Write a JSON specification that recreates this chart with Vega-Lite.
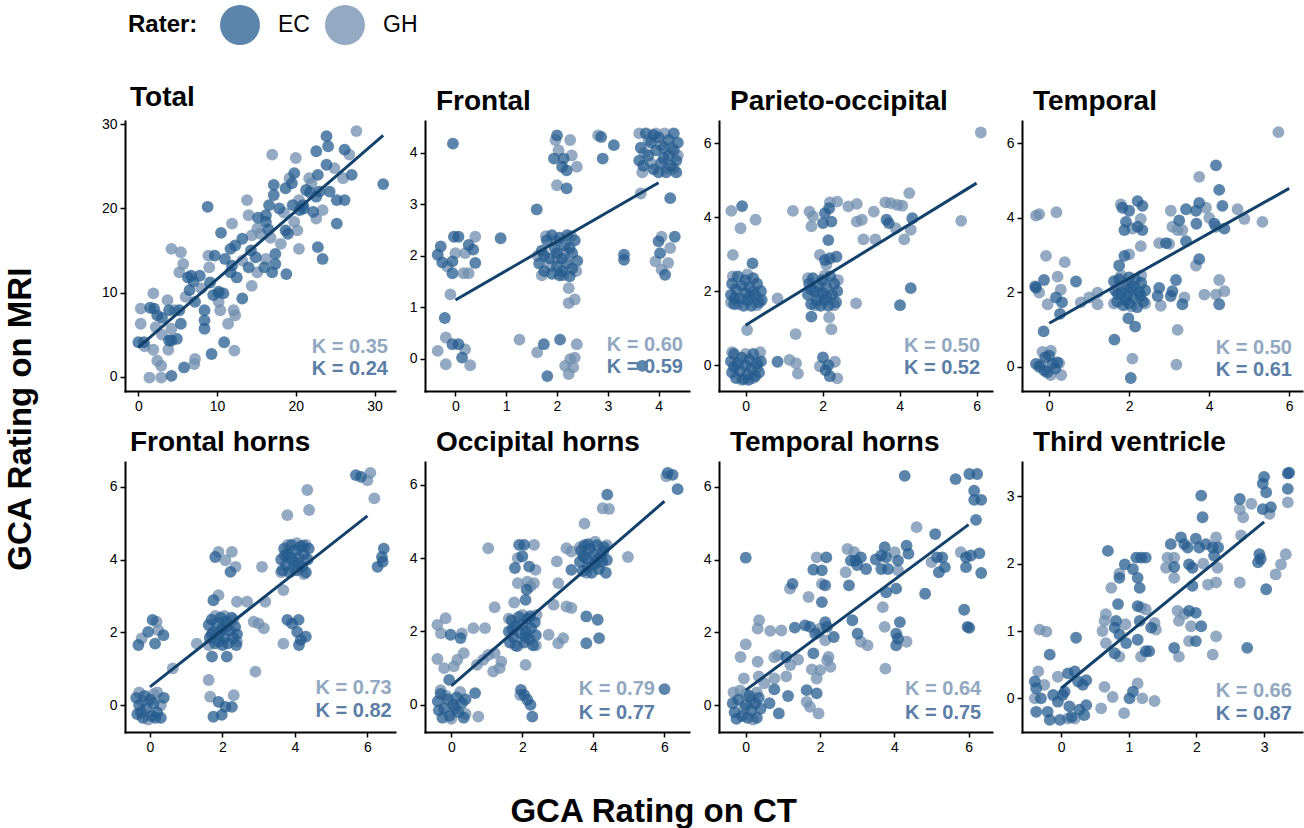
{
"$schema":"https://vega.github.io/schema/vega-lite/v6.json",
"background":"white",
"padding":{"left":5,"top":5,"right":3,"bottom":3},
"datasets":{
"lns":[
{"p":"T","x":0,"y":3.5},{"p":"T","x":31.1,"y":28.7},
{"p":"F","x":0,"y":1.14},{"p":"F","x":4,"y":3.42},
{"p":"P","x":0,"y":1.08},{"p":"P","x":6,"y":4.92},
{"p":"Te","x":0,"y":1.17},{"p":"Te","x":6,"y":4.79},
{"p":"FH","x":0,"y":0.5},{"p":"FH","x":6,"y":5.2},
{"p":"OH","x":0,"y":0.52},{"p":"OH","x":6,"y":5.55},
{"p":"TH","x":0,"y":0.41},{"p":"TH","x":6,"y":4.96},
{"p":"V","x":0,"y":0.15},{"p":"V","x":3,"y":2.62}
],
"kts":[
{"p":"T","r":"GH","x":31.7,"y":3.5,"t":"K = 0.35"},{"p":"T","r":"EC","x":31.7,"y":0.88,"t":"K = 0.24"},
{"p":"F","r":"GH","x":4.48,"y":0.26,"t":"K = 0.60"},{"p":"F","r":"EC","x":4.48,"y":-0.17,"t":"K = 0.59"},
{"p":"P","r":"GH","x":6.09,"y":0.52,"t":"K = 0.50"},{"p":"P","r":"EC","x":6.09,"y":-0.09,"t":"K = 0.52"},
{"p":"Te","r":"GH","x":6.07,"y":0.5,"t":"K = 0.50"},{"p":"Te","r":"EC","x":6.07,"y":-0.09,"t":"K = 0.61"},
{"p":"FH","r":"GH","x":6.67,"y":0.46,"t":"K = 0.73"},{"p":"FH","r":"EC","x":6.67,"y":-0.16,"t":"K = 0.82"},
{"p":"OH","r":"GH","x":5.73,"y":0.43,"t":"K = 0.79"},{"p":"OH","r":"EC","x":5.73,"y":-0.23,"t":"K = 0.77"},
{"p":"TH","r":"GH","x":6.34,"y":0.43,"t":"K = 0.64"},{"p":"TH","r":"EC","x":6.34,"y":-0.21,"t":"K = 0.75"},
{"p":"V","r":"GH","x":3.41,"y":0.11,"t":"K = 0.66"},{"p":"V","r":"EC","x":3.41,"y":-0.24,"t":"K = 0.87"}
],
"pts":[
{"p":"T","r":"GH","x":0.3,"y":8.1},{"p":"T","r":"GH","x":0.3,"y":6.3},{"p":"T","r":"GH","x":1.4,"y":-0.1},{"p":"T","r":"GH","x":2.9,"y":-0.1},{"p":"T","r":"GH","x":1.9,"y":9.9},{"p":"T","r":"GH","x":2.2,"y":5.9},{"p":"T","r":"GH","x":1.9,"y":3.2},{"p":"T","r":"GH","x":2.4,"y":1.9},{"p":"T","r":"GH","x":2.9,"y":1.3},{"p":"T","r":"GH","x":3.7,"y":9.1},{"p":"T","r":"GH","x":4.2,"y":5.7},{"p":"T","r":"GH","x":3.8,"y":3.2},{"p":"T","r":"GH","x":4.2,"y":15.2},{"p":"T","r":"GH","x":5.4,"y":14.8},{"p":"T","r":"GH","x":4.6,"y":7.9},{"p":"T","r":"GH","x":5.7,"y":13.4},{"p":"T","r":"GH","x":5.2,"y":12.4},{"p":"T","r":"GH","x":7.1,"y":1.5},{"p":"T","r":"GH","x":7.2,"y":2.1},{"p":"T","r":"GH","x":8.0,"y":10.5},{"p":"T","r":"GH","x":8.9,"y":14.4},{"p":"T","r":"GH","x":10.2,"y":9.9},{"p":"T","r":"GH","x":10.4,"y":7.9},{"p":"T","r":"GH","x":10.2,"y":8.9},{"p":"T","r":"GH","x":11.4,"y":6.3},{"p":"T","r":"GH","x":11.9,"y":18.2},{"p":"T","r":"GH","x":12.1,"y":7.9},{"p":"T","r":"GH","x":12.3,"y":7.3},{"p":"T","r":"GH","x":12.2,"y":3.1},{"p":"T","r":"GH","x":13.2,"y":13.8},{"p":"T","r":"GH","x":13.8,"y":21.0},{"p":"T","r":"GH","x":14.0,"y":19.2},{"p":"T","r":"GH","x":14.4,"y":10.8},{"p":"T","r":"GH","x":14.4,"y":16.8},{"p":"T","r":"GH","x":15.1,"y":12.4},{"p":"T","r":"GH","x":15.1,"y":17.6},{"p":"T","r":"GH","x":16.2,"y":14.0},{"p":"T","r":"GH","x":17.0,"y":26.4},{"p":"T","r":"GH","x":18.1,"y":15.8},{"p":"T","r":"GH","x":19.2,"y":23.6},{"p":"T","r":"GH","x":20.0,"y":26.0},{"p":"T","r":"GH","x":19.8,"y":18.4},{"p":"T","r":"GH","x":20.4,"y":15.2},{"p":"T","r":"GH","x":20.2,"y":17.4},{"p":"T","r":"GH","x":21.7,"y":23.6},{"p":"T","r":"GH","x":22.6,"y":18.8},{"p":"T","r":"GH","x":23.4,"y":19.8},{"p":"T","r":"GH","x":24.9,"y":24.8},{"p":"T","r":"GH","x":26.0,"y":23.6},{"p":"T","r":"GH","x":26.8,"y":26.4},{"p":"T","r":"GH","x":27.7,"y":29.2},{"p":"T","r":"GH","x":20.4,"y":21.0},{"p":"T","r":"GH","x":15.5,"y":17.0},{"p":"T","r":"GH","x":16.8,"y":16.5},{"p":"T","r":"GH","x":18.5,"y":19.5},{"p":"T","r":"GH","x":9.0,"y":13.0},{"p":"T","r":"GH","x":6.0,"y":9.5},{"p":"T","r":"GH","x":3.0,"y":5.0},{"p":"T","r":"GH","x":22.0,"y":23.0},{"p":"T","r":"GH","x":0.8,"y":3.6},
{"p":"T","r":"EC","x":0,"y":4.1},{"p":"T","r":"EC","x":0.7,"y":4.1},{"p":"T","r":"EC","x":2.0,"y":8.1},{"p":"T","r":"EC","x":2.4,"y":7.3},{"p":"T","r":"EC","x":3.9,"y":7.9},{"p":"T","r":"EC","x":3.9,"y":4.3},{"p":"T","r":"EC","x":4.2,"y":4.3},{"p":"T","r":"EC","x":4.2,"y":0.1},{"p":"T","r":"EC","x":4.9,"y":4.5},{"p":"T","r":"EC","x":5.4,"y":6.3},{"p":"T","r":"EC","x":5.2,"y":7.9},{"p":"T","r":"EC","x":5.8,"y":1.1},{"p":"T","r":"EC","x":6.3,"y":11.8},{"p":"T","r":"EC","x":6.7,"y":12.0},{"p":"T","r":"EC","x":6.5,"y":10.3},{"p":"T","r":"EC","x":7.2,"y":8.9},{"p":"T","r":"EC","x":7.8,"y":12.0},{"p":"T","r":"EC","x":8.4,"y":7.9},{"p":"T","r":"EC","x":8.4,"y":6.7},{"p":"T","r":"EC","x":8.4,"y":5.7},{"p":"T","r":"EC","x":8.8,"y":20.2},{"p":"T","r":"EC","x":9.1,"y":11.2},{"p":"T","r":"EC","x":9.3,"y":2.7},{"p":"T","r":"EC","x":9.7,"y":14.4},{"p":"T","r":"EC","x":9.5,"y":9.7},{"p":"T","r":"EC","x":10.5,"y":17.1},{"p":"T","r":"EC","x":11.0,"y":14.0},{"p":"T","r":"EC","x":10.8,"y":9.9},{"p":"T","r":"EC","x":10.9,"y":4.1},{"p":"T","r":"EC","x":11.7,"y":15.2},{"p":"T","r":"EC","x":11.7,"y":12.4},{"p":"T","r":"EC","x":11.9,"y":13.2},{"p":"T","r":"EC","x":12.3,"y":15.6},{"p":"T","r":"EC","x":13.2,"y":9.3},{"p":"T","r":"EC","x":13.2,"y":16.4},{"p":"T","r":"EC","x":14.0,"y":13.0},{"p":"T","r":"EC","x":14.9,"y":14.2},{"p":"T","r":"EC","x":16.2,"y":18.4},{"p":"T","r":"EC","x":16.2,"y":19.2},{"p":"T","r":"EC","x":16.0,"y":13.0},{"p":"T","r":"EC","x":16.6,"y":20.4},{"p":"T","r":"EC","x":17.2,"y":21.6},{"p":"T","r":"EC","x":17.2,"y":22.8},{"p":"T","r":"EC","x":17.4,"y":14.6},{"p":"T","r":"EC","x":17.4,"y":13.4},{"p":"T","r":"EC","x":17.0,"y":12.4},{"p":"T","r":"EC","x":17.9,"y":20.0},{"p":"T","r":"EC","x":18.7,"y":22.4},{"p":"T","r":"EC","x":18.8,"y":12.2},{"p":"T","r":"EC","x":18.7,"y":17.4},{"p":"T","r":"EC","x":19.8,"y":24.2},{"p":"T","r":"EC","x":19.6,"y":20.4},{"p":"T","r":"EC","x":20.9,"y":20.4},{"p":"T","r":"EC","x":21.3,"y":22.2},{"p":"T","r":"EC","x":22.2,"y":19.6},{"p":"T","r":"EC","x":22.6,"y":21.4},{"p":"T","r":"EC","x":22.8,"y":15.4},{"p":"T","r":"EC","x":23.4,"y":14.0},{"p":"T","r":"EC","x":22.6,"y":26.8},{"p":"T","r":"EC","x":22.8,"y":24.0},{"p":"T","r":"EC","x":23.9,"y":28.6},{"p":"T","r":"EC","x":24.1,"y":27.4},{"p":"T","r":"EC","x":23.9,"y":25.2},{"p":"T","r":"EC","x":24.3,"y":22.0},{"p":"T","r":"EC","x":25.2,"y":21.0},{"p":"T","r":"EC","x":25.2,"y":18.2},{"p":"T","r":"EC","x":26.2,"y":21.0},{"p":"T","r":"EC","x":26.2,"y":27.0},{"p":"T","r":"EC","x":27.1,"y":24.0},{"p":"T","r":"EC","x":31.1,"y":22.9},{"p":"T","r":"EC","x":15.2,"y":18.9},{"p":"T","r":"EC","x":19.0,"y":17.0},{"p":"T","r":"EC","x":20.5,"y":19.8},{"p":"T","r":"EC","x":21.8,"y":21.9},{"p":"T","r":"EC","x":16.5,"y":17.5},{"p":"T","r":"EC","x":14.3,"y":15.0},{"p":"T","r":"EC","x":12.5,"y":11.8},{"p":"T","r":"EC","x":10.2,"y":10.1},{"p":"T","r":"EC","x":7.0,"y":11.3},{"p":"T","r":"EC","x":3.0,"y":7.0},{"p":"T","r":"EC","x":1.5,"y":8.2},{"p":"T","r":"EC","x":19.5,"y":23.0},{"p":"T","r":"EC","x":23.0,"y":22.0},{"p":"T","r":"EC","x":21.0,"y":20.0},
{"p":"F","r":"GH","x":-0.16,"y":1.79},{"p":"F","r":"GH","x":0,"y":2.05},{"p":"F","r":"GH","x":0.16,"y":1.66},{"p":"F","r":"GH","x":0.26,"y":1.66},{"p":"F","r":"GH","x":0.19,"y":2.05},{"p":"F","r":"GH","x":0.39,"y":2.37},{"p":"F","r":"GH","x":-0.1,"y":1.25},{"p":"F","r":"GH","x":-0.19,"y":0.41},{"p":"F","r":"GH","x":-0.35,"y":0.15},{"p":"F","r":"GH","x":-0.19,"y":-0.11},{"p":"F","r":"GH","x":0.19,"y":0.18},{"p":"F","r":"GH","x":0.29,"y":-0.13},{"p":"F","r":"GH","x":1.26,"y":0.37},{"p":"F","r":"GH","x":1.61,"y":0.12},{"p":"F","r":"GH","x":2.16,"y":-0.14},{"p":"F","r":"GH","x":2.26,"y":-0.01},{"p":"F","r":"GH","x":2.35,"y":0.02},{"p":"F","r":"GH","x":2.39,"y":0.28},{"p":"F","r":"GH","x":2.32,"y":-0.17},{"p":"F","r":"GH","x":2.23,"y":-0.3},{"p":"F","r":"GH","x":2.23,"y":1.37},{"p":"F","r":"GH","x":2.23,"y":1.08},{"p":"F","r":"GH","x":2.35,"y":1.15},{"p":"F","r":"GH","x":1.97,"y":4.25},{"p":"F","r":"GH","x":2.03,"y":4.05},{"p":"F","r":"GH","x":2.26,"y":4.25},{"p":"F","r":"GH","x":2.29,"y":3.95},{"p":"F","r":"GH","x":2.39,"y":3.73},{"p":"F","r":"GH","x":2.0,"y":3.37},{"p":"F","r":"GH","x":2.81,"y":4.34},{"p":"F","r":"GH","x":3.65,"y":3.21},{"p":"F","r":"GH","x":4.06,"y":2.37},{"p":"F","r":"GH","x":3.94,"y":1.89},{"p":"F","r":"GH","x":4.19,"y":1.86},{"p":"F","r":"GH","x":4.23,"y":2.15},{"p":"F","r":"GH","x":4.06,"y":1.73},{"p":"F","r":"GH","x":1.62,"y":2.0},{"p":"F","r":"GH","x":1.7,"y":1.62},{"p":"F","r":"GH","x":1.78,"y":2.38},{"p":"F","r":"GH","x":1.88,"y":1.8},{"p":"F","r":"GH","x":1.98,"y":2.3},{"p":"F","r":"GH","x":2.12,"y":1.62},{"p":"F","r":"GH","x":2.28,"y":2.38},{"p":"F","r":"GH","x":2.38,"y":1.7},{"p":"F","r":"GH","x":2.0,"y":1.95},{"p":"F","r":"GH","x":2.15,"y":2.05},{"p":"F","r":"GH","x":3.62,"y":4.38},{"p":"F","r":"GH","x":3.68,"y":3.62},{"p":"F","r":"GH","x":3.72,"y":4.0},{"p":"F","r":"GH","x":3.85,"y":3.8},{"p":"F","r":"GH","x":3.95,"y":4.38},{"p":"F","r":"GH","x":4.05,"y":4.15},{"p":"F","r":"GH","x":4.12,"y":4.38},{"p":"F","r":"GH","x":4.18,"y":3.7},{"p":"F","r":"GH","x":4.25,"y":4.1},{"p":"F","r":"GH","x":4.38,"y":3.95},{"p":"F","r":"GH","x":3.8,"y":4.25},{"p":"F","r":"GH","x":4.3,"y":3.7},
{"p":"F","r":"EC","x":-0.05,"y":4.18},{"p":"F","r":"EC","x":-0.35,"y":2.02},{"p":"F","r":"EC","x":-0.29,"y":2.18},{"p":"F","r":"EC","x":-0.26,"y":1.87},{"p":"F","r":"EC","x":-0.06,"y":1.89},{"p":"F","r":"EC","x":-0.03,"y":2.37},{"p":"F","r":"EC","x":0.06,"y":2.37},{"p":"F","r":"EC","x":-0.06,"y":1.66},{"p":"F","r":"EC","x":0.26,"y":2.21},{"p":"F","r":"EC","x":0.35,"y":2.12},{"p":"F","r":"EC","x":0.39,"y":1.86},{"p":"F","r":"EC","x":-0.21,"y":0.79},{"p":"F","r":"EC","x":-0.06,"y":0.28},{"p":"F","r":"EC","x":0.06,"y":0.28},{"p":"F","r":"EC","x":0.13,"y":0.02},{"p":"F","r":"EC","x":0.89,"y":2.34},{"p":"F","r":"EC","x":1.6,"y":2.9},{"p":"F","r":"EC","x":1.74,"y":0.28},{"p":"F","r":"EC","x":1.81,"y":-0.34},{"p":"F","r":"EC","x":2.06,"y":0.37},{"p":"F","r":"EC","x":2.0,"y":4.34},{"p":"F","r":"EC","x":1.94,"y":3.89},{"p":"F","r":"EC","x":2.13,"y":3.89},{"p":"F","r":"EC","x":2.1,"y":3.73},{"p":"F","r":"EC","x":2.19,"y":3.66},{"p":"F","r":"EC","x":2.19,"y":3.31},{"p":"F","r":"EC","x":2.87,"y":4.31},{"p":"F","r":"EC","x":2.9,"y":3.89},{"p":"F","r":"EC","x":3.12,"y":4.15},{"p":"F","r":"EC","x":3.32,"y":2.02},{"p":"F","r":"EC","x":3.32,"y":1.92},{"p":"F","r":"EC","x":4.23,"y":3.12},{"p":"F","r":"EC","x":4.0,"y":2.28},{"p":"F","r":"EC","x":4.32,"y":2.37},{"p":"F","r":"EC","x":4.03,"y":2.05},{"p":"F","r":"EC","x":4.13,"y":1.63},{"p":"F","r":"EC","x":3.68,"y":-0.14},{"p":"F","r":"EC","x":1.65,"y":1.85},{"p":"F","r":"EC","x":1.7,"y":2.1},{"p":"F","r":"EC","x":1.75,"y":1.7},{"p":"F","r":"EC","x":1.8,"y":2.3},{"p":"F","r":"EC","x":1.85,"y":1.95},{"p":"F","r":"EC","x":1.9,"y":1.65},{"p":"F","r":"EC","x":1.95,"y":2.15},{"p":"F","r":"EC","x":2.0,"y":1.8},{"p":"F","r":"EC","x":2.0,"y":2.05},{"p":"F","r":"EC","x":2.05,"y":2.35},{"p":"F","r":"EC","x":2.1,"y":1.7},{"p":"F","r":"EC","x":2.1,"y":1.95},{"p":"F","r":"EC","x":2.15,"y":2.2},{"p":"F","r":"EC","x":2.2,"y":1.85},{"p":"F","r":"EC","x":2.2,"y":2.4},{"p":"F","r":"EC","x":2.25,"y":1.6},{"p":"F","r":"EC","x":2.3,"y":2.05},{"p":"F","r":"EC","x":2.3,"y":1.75},{"p":"F","r":"EC","x":2.35,"y":2.3},{"p":"F","r":"EC","x":2.4,"y":1.9},{"p":"F","r":"EC","x":1.9,"y":2.4},{"p":"F","r":"EC","x":1.75,"y":2.0},{"p":"F","r":"EC","x":2.05,"y":1.62},{"p":"F","r":"EC","x":2.25,"y":2.15},{"p":"F","r":"EC","x":3.62,"y":3.85},{"p":"F","r":"EC","x":3.65,"y":4.1},{"p":"F","r":"EC","x":3.7,"y":3.75},{"p":"F","r":"EC","x":3.75,"y":4.38},{"p":"F","r":"EC","x":3.8,"y":3.95},{"p":"F","r":"EC","x":3.85,"y":4.2},{"p":"F","r":"EC","x":3.9,"y":3.68},{"p":"F","r":"EC","x":3.95,"y":4.05},{"p":"F","r":"EC","x":4.0,"y":4.3},{"p":"F","r":"EC","x":4.05,"y":3.8},{"p":"F","r":"EC","x":4.1,"y":4.1},{"p":"F","r":"EC","x":4.15,"y":3.62},{"p":"F","r":"EC","x":4.2,"y":3.95},{"p":"F","r":"EC","x":4.2,"y":4.25},{"p":"F","r":"EC","x":4.25,"y":3.75},{"p":"F","r":"EC","x":4.3,"y":4.38},{"p":"F","r":"EC","x":4.3,"y":4.05},{"p":"F","r":"EC","x":4.35,"y":3.85},{"p":"F","r":"EC","x":4.38,"y":4.2},{"p":"F","r":"EC","x":4.35,"y":3.62},{"p":"F","r":"EC","x":3.9,"y":4.35},{"p":"F","r":"EC","x":4.1,"y":3.9},{"p":"F","r":"EC","x":4.0,"y":3.62},
{"p":"P","r":"GH","x":-0.37,"y":4.17},{"p":"P","r":"GH","x":-0.13,"y":3.7},{"p":"P","r":"GH","x":0.26,"y":3.93},{"p":"P","r":"GH","x":-0.33,"y":2.98},{"p":"P","r":"GH","x":0.04,"y":0.95},{"p":"P","r":"GH","x":1.14,"y":0.14},{"p":"P","r":"GH","x":1.31,"y":0.05},{"p":"P","r":"GH","x":1.36,"y":-0.23},{"p":"P","r":"GH","x":0.83,"y":1.8},{"p":"P","r":"GH","x":1.3,"y":0.84},{"p":"P","r":"GH","x":1.23,"y":4.17},{"p":"P","r":"GH","x":1.66,"y":4.15},{"p":"P","r":"GH","x":1.75,"y":4.02},{"p":"P","r":"GH","x":1.71,"y":3.75},{"p":"P","r":"GH","x":2.19,"y":4.4},{"p":"P","r":"GH","x":2.38,"y":4.42},{"p":"P","r":"GH","x":1.93,"y":2.98},{"p":"P","r":"GH","x":2.1,"y":2.71},{"p":"P","r":"GH","x":2.17,"y":1.29},{"p":"P","r":"GH","x":2.23,"y":0.97},{"p":"P","r":"GH","x":1.93,"y":-0.03},{"p":"P","r":"GH","x":2.32,"y":0.09},{"p":"P","r":"GH","x":2.38,"y":-0.36},{"p":"P","r":"GH","x":2.67,"y":4.29},{"p":"P","r":"GH","x":2.89,"y":4.36},{"p":"P","r":"GH","x":2.89,"y":3.88},{"p":"P","r":"GH","x":3.02,"y":3.93},{"p":"P","r":"GH","x":3.06,"y":3.4},{"p":"P","r":"GH","x":3.33,"y":4.15},{"p":"P","r":"GH","x":3.37,"y":3.4},{"p":"P","r":"GH","x":2.87,"y":1.67},{"p":"P","r":"GH","x":3.63,"y":4.4},{"p":"P","r":"GH","x":3.77,"y":4.38},{"p":"P","r":"GH","x":3.94,"y":4.33},{"p":"P","r":"GH","x":4.07,"y":4.31},{"p":"P","r":"GH","x":3.9,"y":3.7},{"p":"P","r":"GH","x":4.12,"y":3.4},{"p":"P","r":"GH","x":4.25,"y":4.65},{"p":"P","r":"GH","x":4.29,"y":3.66},{"p":"P","r":"GH","x":5.6,"y":3.9},{"p":"P","r":"GH","x":6.11,"y":6.29},{"p":"P","r":"GH","x":-0.33,"y":2.4},{"p":"P","r":"GH","x":-0.2,"y":1.65},{"p":"P","r":"GH","x":0.05,"y":2.45},{"p":"P","r":"GH","x":0.3,"y":1.62},{"p":"P","r":"GH","x":-0.38,"y":1.7},{"p":"P","r":"GH","x":0.2,"y":2.0},{"p":"P","r":"GH","x":-0.35,"y":0.35},{"p":"P","r":"GH","x":-0.1,"y":-0.4},{"p":"P","r":"GH","x":0.2,"y":-0.35},{"p":"P","r":"GH","x":0.38,"y":0.35},{"p":"P","r":"GH","x":0.0,"y":0.3},{"p":"P","r":"GH","x":0.3,"y":-0.05},{"p":"P","r":"GH","x":1.62,"y":2.35},{"p":"P","r":"GH","x":1.8,"y":1.62},{"p":"P","r":"GH","x":2.05,"y":2.42},{"p":"P","r":"GH","x":2.3,"y":1.62},{"p":"P","r":"GH","x":2.4,"y":2.3},{"p":"P","r":"GH","x":1.9,"y":1.9},
{"p":"P","r":"EC","x":-0.09,"y":4.3},{"p":"P","r":"EC","x":0.18,"y":2.75},{"p":"P","r":"EC","x":0.42,"y":1.76},{"p":"P","r":"EC","x":0.83,"y":0.09},{"p":"P","r":"EC","x":2.06,"y":4.11},{"p":"P","r":"EC","x":2.01,"y":3.84},{"p":"P","r":"EC","x":2.17,"y":4.24},{"p":"P","r":"EC","x":2.23,"y":3.88},{"p":"P","r":"EC","x":2.15,"y":3.38},{"p":"P","r":"EC","x":2.06,"y":2.84},{"p":"P","r":"EC","x":2.19,"y":2.89},{"p":"P","r":"EC","x":2.36,"y":2.93},{"p":"P","r":"EC","x":1.71,"y":1.31},{"p":"P","r":"EC","x":2.01,"y":0.21},{"p":"P","r":"EC","x":2.08,"y":-0.14},{"p":"P","r":"EC","x":2.19,"y":-0.3},{"p":"P","r":"EC","x":2.15,"y":0},{"p":"P","r":"EC","x":3.66,"y":3.93},{"p":"P","r":"EC","x":3.72,"y":3.84},{"p":"P","r":"EC","x":4.33,"y":3.97},{"p":"P","r":"EC","x":4.29,"y":2.08},{"p":"P","r":"EC","x":4.01,"y":1.62},{"p":"P","r":"EC","x":-0.38,"y":1.9},{"p":"P","r":"EC","x":-0.35,"y":2.2},{"p":"P","r":"EC","x":-0.3,"y":1.65},{"p":"P","r":"EC","x":-0.25,"y":2.05},{"p":"P","r":"EC","x":-0.2,"y":2.4},{"p":"P","r":"EC","x":-0.15,"y":1.8},{"p":"P","r":"EC","x":-0.1,"y":2.15},{"p":"P","r":"EC","x":-0.05,"y":1.6},{"p":"P","r":"EC","x":0,"y":1.95},{"p":"P","r":"EC","x":0,"y":2.3},{"p":"P","r":"EC","x":0.05,"y":1.75},{"p":"P","r":"EC","x":0.1,"y":2.1},{"p":"P","r":"EC","x":0.15,"y":1.6},{"p":"P","r":"EC","x":0.2,"y":2.35},{"p":"P","r":"EC","x":0.25,"y":1.9},{"p":"P","r":"EC","x":0.3,"y":2.2},{"p":"P","r":"EC","x":0.35,"y":1.7},{"p":"P","r":"EC","x":0.4,"y":2.0},{"p":"P","r":"EC","x":-0.28,"y":1.8},{"p":"P","r":"EC","x":0.12,"y":1.85},{"p":"P","r":"EC","x":-0.38,"y":0.1},{"p":"P","r":"EC","x":-0.35,"y":-0.2},{"p":"P","r":"EC","x":-0.3,"y":0.3},{"p":"P","r":"EC","x":-0.25,"y":-0.35},{"p":"P","r":"EC","x":-0.2,"y":0.05},{"p":"P","r":"EC","x":-0.15,"y":-0.15},{"p":"P","r":"EC","x":-0.1,"y":0.2},{"p":"P","r":"EC","x":-0.05,"y":-0.38},{"p":"P","r":"EC","x":0,"y":0},{"p":"P","r":"EC","x":0.05,"y":-0.25},{"p":"P","r":"EC","x":0.1,"y":0.15},{"p":"P","r":"EC","x":0.15,"y":-0.1},{"p":"P","r":"EC","x":0.2,"y":0.3},{"p":"P","r":"EC","x":0.25,"y":-0.3},{"p":"P","r":"EC","x":0.3,"y":0.05},{"p":"P","r":"EC","x":0.35,"y":-0.2},{"p":"P","r":"EC","x":0.4,"y":0.1},{"p":"P","r":"EC","x":-0.3,"y":-0.05},{"p":"P","r":"EC","x":0.08,"y":-0.4},{"p":"P","r":"EC","x":1.62,"y":1.9},{"p":"P","r":"EC","x":1.65,"y":2.2},{"p":"P","r":"EC","x":1.7,"y":1.65},{"p":"P","r":"EC","x":1.75,"y":2.35},{"p":"P","r":"EC","x":1.8,"y":2.0},{"p":"P","r":"EC","x":1.85,"y":1.75},{"p":"P","r":"EC","x":1.9,"y":2.15},{"p":"P","r":"EC","x":1.95,"y":1.6},{"p":"P","r":"EC","x":2.0,"y":1.95},{"p":"P","r":"EC","x":2.0,"y":2.3},{"p":"P","r":"EC","x":2.05,"y":1.75},{"p":"P","r":"EC","x":2.1,"y":2.1},{"p":"P","r":"EC","x":2.15,"y":1.6},{"p":"P","r":"EC","x":2.2,"y":2.4},{"p":"P","r":"EC","x":2.25,"y":1.9},{"p":"P","r":"EC","x":2.3,"y":2.2},{"p":"P","r":"EC","x":2.35,"y":1.7},{"p":"P","r":"EC","x":2.38,"y":2.0},{"p":"P","r":"EC","x":1.7,"y":2.05},{"p":"P","r":"EC","x":2.1,"y":1.85},
{"p":"Te","r":"GH","x":-0.33,"y":4.06},{"p":"Te","r":"GH","x":-0.25,"y":4.1},{"p":"Te","r":"GH","x":0.18,"y":4.15},{"p":"Te","r":"GH","x":-0.08,"y":2.98},{"p":"Te","r":"GH","x":0.39,"y":2.81},{"p":"Te","r":"GH","x":-0.25,"y":1.99},{"p":"Te","r":"GH","x":-0.04,"y":1.68},{"p":"Te","r":"GH","x":0.21,"y":2.42},{"p":"Te","r":"GH","x":0.29,"y":2.07},{"p":"Te","r":"GH","x":0.79,"y":1.73},{"p":"Te","r":"GH","x":1.0,"y":1.86},{"p":"Te","r":"GH","x":1.21,"y":1.68},{"p":"Te","r":"GH","x":1.21,"y":1.99},{"p":"Te","r":"GH","x":2.08,"y":0.22},{"p":"Te","r":"GH","x":3.21,"y":0.99},{"p":"Te","r":"GH","x":3.18,"y":0.06},{"p":"Te","r":"GH","x":1.79,"y":4.36},{"p":"Te","r":"GH","x":2.29,"y":3.97},{"p":"Te","r":"GH","x":2.08,"y":3.71},{"p":"Te","r":"GH","x":2.29,"y":3.24},{"p":"Te","r":"GH","x":2.0,"y":3.02},{"p":"Te","r":"GH","x":2.75,"y":3.32},{"p":"Te","r":"GH","x":2.79,"y":1.64},{"p":"Te","r":"GH","x":3.04,"y":4.19},{"p":"Te","r":"GH","x":3.08,"y":3.76},{"p":"Te","r":"GH","x":3.21,"y":3.67},{"p":"Te","r":"GH","x":3.33,"y":3.67},{"p":"Te","r":"GH","x":3.38,"y":1.86},{"p":"Te","r":"GH","x":3.75,"y":5.1},{"p":"Te","r":"GH","x":3.67,"y":2.72},{"p":"Te","r":"GH","x":3.92,"y":4.27},{"p":"Te","r":"GH","x":3.88,"y":1.94},{"p":"Te","r":"GH","x":4.17,"y":3.76},{"p":"Te","r":"GH","x":4.25,"y":2.33},{"p":"Te","r":"GH","x":4.17,"y":1.94},{"p":"Te","r":"GH","x":4.38,"y":2.03},{"p":"Te","r":"GH","x":4.71,"y":4.23},{"p":"Te","r":"GH","x":4.88,"y":3.97},{"p":"Te","r":"GH","x":5.33,"y":3.89},{"p":"Te","r":"GH","x":5.73,"y":6.3},{"p":"Te","r":"GH","x":3.0,"y":3.3},{"p":"Te","r":"GH","x":4.0,"y":4.0},{"p":"Te","r":"GH","x":-0.17,"y":0.4},{"p":"Te","r":"GH","x":0.04,"y":0.43},{"p":"Te","r":"GH","x":-0.22,"y":0.05},{"p":"Te","r":"GH","x":0.04,"y":-0.22},{"p":"Te","r":"GH","x":0.3,"y":-0.22},{"p":"Te","r":"GH","x":0.25,"y":0.1},{"p":"Te","r":"GH","x":1.62,"y":1.7},{"p":"Te","r":"GH","x":1.8,"y":2.45},{"p":"Te","r":"GH","x":2.05,"y":1.62},{"p":"Te","r":"GH","x":2.3,"y":2.45},{"p":"Te","r":"GH","x":2.4,"y":1.7},{"p":"Te","r":"GH","x":1.95,"y":2.1},
{"p":"Te","r":"EC","x":-0.35,"y":2.16},{"p":"Te","r":"EC","x":-0.33,"y":2.12},{"p":"Te","r":"EC","x":-0.13,"y":2.33},{"p":"Te","r":"EC","x":0.17,"y":1.86},{"p":"Te","r":"EC","x":0.32,"y":1.73},{"p":"Te","r":"EC","x":0.27,"y":1.42},{"p":"Te","r":"EC","x":0.67,"y":2.29},{"p":"Te","r":"EC","x":-0.14,"y":0.95},{"p":"Te","r":"EC","x":1.63,"y":0.73},{"p":"Te","r":"EC","x":2.04,"y":-0.3},{"p":"Te","r":"EC","x":1.98,"y":1.3},{"p":"Te","r":"EC","x":2.15,"y":1.08},{"p":"Te","r":"EC","x":1.83,"y":4.27},{"p":"Te","r":"EC","x":1.92,"y":3.89},{"p":"Te","r":"EC","x":1.88,"y":3.67},{"p":"Te","r":"EC","x":2.0,"y":4.19},{"p":"Te","r":"EC","x":2.21,"y":4.45},{"p":"Te","r":"EC","x":2.33,"y":4.32},{"p":"Te","r":"EC","x":2.21,"y":3.76},{"p":"Te","r":"EC","x":2.33,"y":3.67},{"p":"Te","r":"EC","x":1.75,"y":2.72},{"p":"Te","r":"EC","x":1.88,"y":2.98},{"p":"Te","r":"EC","x":2.92,"y":3.32},{"p":"Te","r":"EC","x":2.75,"y":2.12},{"p":"Te","r":"EC","x":2.71,"y":1.9},{"p":"Te","r":"EC","x":3.25,"y":3.93},{"p":"Te","r":"EC","x":3.42,"y":4.23},{"p":"Te","r":"EC","x":3.42,"y":3.37},{"p":"Te","r":"EC","x":3.08,"y":2.03},{"p":"Te","r":"EC","x":3.17,"y":2.33},{"p":"Te","r":"EC","x":3.04,"y":1.9},{"p":"Te","r":"EC","x":3.33,"y":1.68},{"p":"Te","r":"EC","x":3.67,"y":4.19},{"p":"Te","r":"EC","x":3.75,"y":4.4},{"p":"Te","r":"EC","x":3.68,"y":3.84},{"p":"Te","r":"EC","x":3.75,"y":2.89},{"p":"Te","r":"EC","x":4.17,"y":5.41},{"p":"Te","r":"EC","x":4.25,"y":4.75},{"p":"Te","r":"EC","x":4.13,"y":3.84},{"p":"Te","r":"EC","x":4.33,"y":4.32},{"p":"Te","r":"EC","x":4.38,"y":3.71},{"p":"Te","r":"EC","x":4.25,"y":1.68},{"p":"Te","r":"EC","x":-0.33,"y":0.08},{"p":"Te","r":"EC","x":-0.1,"y":0.25},{"p":"Te","r":"EC","x":-0.05,"y":-0.15},{"p":"Te","r":"EC","x":0.08,"y":0.08},{"p":"Te","r":"EC","x":0.2,"y":0.12},{"p":"Te","r":"EC","x":-0.12,"y":-0.1},{"p":"Te","r":"EC","x":0.0,"y":0.3},{"p":"Te","r":"EC","x":0.15,"y":-0.05},{"p":"Te","r":"EC","x":-0.25,"y":0.0},{"p":"Te","r":"EC","x":1.62,"y":2.3},{"p":"Te","r":"EC","x":1.65,"y":2.05},{"p":"Te","r":"EC","x":1.7,"y":1.75},{"p":"Te","r":"EC","x":1.75,"y":2.35},{"p":"Te","r":"EC","x":1.8,"y":2.0},{"p":"Te","r":"EC","x":1.85,"y":1.65},{"p":"Te","r":"EC","x":1.9,"y":2.2},{"p":"Te","r":"EC","x":1.95,"y":1.9},{"p":"Te","r":"EC","x":2.0,"y":2.4},{"p":"Te","r":"EC","x":2.0,"y":1.7},{"p":"Te","r":"EC","x":2.05,"y":2.1},{"p":"Te","r":"EC","x":2.1,"y":1.85},{"p":"Te","r":"EC","x":2.15,"y":2.35},{"p":"Te","r":"EC","x":2.2,"y":1.6},{"p":"Te","r":"EC","x":2.25,"y":2.0},{"p":"Te","r":"EC","x":2.3,"y":2.25},{"p":"Te","r":"EC","x":2.35,"y":1.75},{"p":"Te","r":"EC","x":2.4,"y":2.05},{"p":"Te","r":"EC","x":1.72,"y":1.95},{"p":"Te","r":"EC","x":2.12,"y":2.15},{"p":"Te","r":"EC","x":1.9,"y":1.8},{"p":"Te","r":"EC","x":2.28,"y":1.9},
{"p":"FH","r":"GH","x":0.63,"y":1.01},{"p":"FH","r":"GH","x":-0.23,"y":1.83},{"p":"FH","r":"GH","x":0.18,"y":2.29},{"p":"FH","r":"GH","x":0.23,"y":2.06},{"p":"FH","r":"GH","x":1.29,"y":1.69},{"p":"FH","r":"GH","x":1.62,"y":0.69},{"p":"FH","r":"GH","x":1.66,"y":0.23},{"p":"FH","r":"GH","x":2.31,"y":0.27},{"p":"FH","r":"GH","x":1.89,"y":3.02},{"p":"FH","r":"GH","x":1.89,"y":4.21},{"p":"FH","r":"GH","x":2.08,"y":3.98},{"p":"FH","r":"GH","x":2.26,"y":4.21},{"p":"FH","r":"GH","x":2.36,"y":3.8},{"p":"FH","r":"GH","x":2.4,"y":2.84},{"p":"FH","r":"GH","x":2.68,"y":2.84},{"p":"FH","r":"GH","x":3.09,"y":3.8},{"p":"FH","r":"GH","x":3.18,"y":2.84},{"p":"FH","r":"GH","x":2.86,"y":2.29},{"p":"FH","r":"GH","x":3.0,"y":2.24},{"p":"FH","r":"GH","x":3.14,"y":2.11},{"p":"FH","r":"GH","x":2.91,"y":0.92},{"p":"FH","r":"GH","x":3.68,"y":3.16},{"p":"FH","r":"GH","x":3.79,"y":5.22},{"p":"FH","r":"GH","x":4.34,"y":5.91},{"p":"FH","r":"GH","x":4.39,"y":5.36},{"p":"FH","r":"GH","x":3.68,"y":1.69},{"p":"FH","r":"GH","x":6.0,"y":6.18},{"p":"FH","r":"GH","x":6.08,"y":6.38},{"p":"FH","r":"GH","x":6.19,"y":5.68},{"p":"FH","r":"GH","x":-0.3,"y":0.35},{"p":"FH","r":"GH","x":-0.05,"y":-0.4},{"p":"FH","r":"GH","x":0.2,"y":0.35},{"p":"FH","r":"GH","x":0.3,"y":0.0},{"p":"FH","r":"GH","x":0.1,"y":0.3},{"p":"FH","r":"GH","x":-0.2,"y":0.1},{"p":"FH","r":"GH","x":1.62,"y":1.65},{"p":"FH","r":"GH","x":1.8,"y":2.45},{"p":"FH","r":"GH","x":2.05,"y":2.45},{"p":"FH","r":"GH","x":2.3,"y":2.35},{"p":"FH","r":"GH","x":2.4,"y":1.75},{"p":"FH","r":"GH","x":1.95,"y":2.05},{"p":"FH","r":"GH","x":3.62,"y":3.65},{"p":"FH","r":"GH","x":3.8,"y":4.4},{"p":"FH","r":"GH","x":4.05,"y":4.45},{"p":"FH","r":"GH","x":4.3,"y":4.4},{"p":"FH","r":"GH","x":4.25,"y":3.6},{"p":"FH","r":"GH","x":3.95,"y":3.75},
{"p":"FH","r":"EC","x":-0.32,"y":1.65},{"p":"FH","r":"EC","x":-0.05,"y":2.01},{"p":"FH","r":"EC","x":0.07,"y":2.34},{"p":"FH","r":"EC","x":0.14,"y":1.69},{"p":"FH","r":"EC","x":0.37,"y":1.92},{"p":"FH","r":"EC","x":1.71,"y":1.33},{"p":"FH","r":"EC","x":2.12,"y":1.33},{"p":"FH","r":"EC","x":1.89,"y":0.09},{"p":"FH","r":"EC","x":1.75,"y":-0.32},{"p":"FH","r":"EC","x":1.98,"y":-0.27},{"p":"FH","r":"EC","x":2.08,"y":-0.05},{"p":"FH","r":"EC","x":2.26,"y":-0.05},{"p":"FH","r":"EC","x":1.75,"y":2.88},{"p":"FH","r":"EC","x":1.8,"y":4.07},{"p":"FH","r":"EC","x":2.22,"y":3.66},{"p":"FH","r":"EC","x":3.79,"y":2.34},{"p":"FH","r":"EC","x":3.92,"y":2.24},{"p":"FH","r":"EC","x":4.1,"y":2.34},{"p":"FH","r":"EC","x":4.06,"y":2.01},{"p":"FH","r":"EC","x":4.16,"y":1.79},{"p":"FH","r":"EC","x":4.3,"y":1.88},{"p":"FH","r":"EC","x":4.11,"y":1.65},{"p":"FH","r":"EC","x":5.68,"y":6.32},{"p":"FH","r":"EC","x":5.82,"y":6.27},{"p":"FH","r":"EC","x":6.28,"y":3.8},{"p":"FH","r":"EC","x":6.42,"y":3.94},{"p":"FH","r":"EC","x":6.45,"y":4.3},{"p":"FH","r":"EC","x":6.4,"y":4.07},{"p":"FH","r":"EC","x":-0.38,"y":0.2},{"p":"FH","r":"EC","x":-0.35,"y":-0.25},{"p":"FH","r":"EC","x":-0.3,"y":0.0},{"p":"FH","r":"EC","x":-0.2,"y":-0.35},{"p":"FH","r":"EC","x":-0.15,"y":0.25},{"p":"FH","r":"EC","x":-0.1,"y":-0.1},{"p":"FH","r":"EC","x":0.0,"y":0.15},{"p":"FH","r":"EC","x":0.05,"y":-0.3},{"p":"FH","r":"EC","x":0.1,"y":0.05},{"p":"FH","r":"EC","x":0.2,"y":-0.2},{"p":"FH","r":"EC","x":0.3,"y":-0.35},{"p":"FH","r":"EC","x":0.38,"y":0.2},{"p":"FH","r":"EC","x":-0.25,"y":-0.2},{"p":"FH","r":"EC","x":0.15,"y":-0.35},{"p":"FH","r":"EC","x":1.62,"y":2.2},{"p":"FH","r":"EC","x":1.65,"y":1.85},{"p":"FH","r":"EC","x":1.7,"y":2.35},{"p":"FH","r":"EC","x":1.75,"y":2.0},{"p":"FH","r":"EC","x":1.8,"y":1.7},{"p":"FH","r":"EC","x":1.85,"y":2.25},{"p":"FH","r":"EC","x":1.9,"y":1.95},{"p":"FH","r":"EC","x":1.95,"y":2.4},{"p":"FH","r":"EC","x":2.0,"y":1.65},{"p":"FH","r":"EC","x":2.0,"y":2.1},{"p":"FH","r":"EC","x":2.05,"y":1.85},{"p":"FH","r":"EC","x":2.1,"y":2.3},{"p":"FH","r":"EC","x":2.15,"y":1.7},{"p":"FH","r":"EC","x":2.2,"y":2.05},{"p":"FH","r":"EC","x":2.25,"y":2.4},{"p":"FH","r":"EC","x":2.3,"y":1.85},{"p":"FH","r":"EC","x":2.35,"y":2.15},{"p":"FH","r":"EC","x":2.38,"y":1.65},{"p":"FH","r":"EC","x":2.4,"y":1.95},{"p":"FH","r":"EC","x":1.7,"y":1.95},{"p":"FH","r":"EC","x":2.1,"y":2.15},{"p":"FH","r":"EC","x":1.9,"y":1.75},{"p":"FH","r":"EC","x":3.62,"y":4.0},{"p":"FH","r":"EC","x":3.65,"y":3.7},{"p":"FH","r":"EC","x":3.7,"y":4.3},{"p":"FH","r":"EC","x":3.75,"y":3.85},{"p":"FH","r":"EC","x":3.8,"y":4.15},{"p":"FH","r":"EC","x":3.85,"y":3.65},{"p":"FH","r":"EC","x":3.9,"y":4.4},{"p":"FH","r":"EC","x":3.95,"y":3.95},{"p":"FH","r":"EC","x":4.0,"y":4.25},{"p":"FH","r":"EC","x":4.05,"y":3.7},{"p":"FH","r":"EC","x":4.1,"y":4.05},{"p":"FH","r":"EC","x":4.15,"y":4.35},{"p":"FH","r":"EC","x":4.2,"y":3.8},{"p":"FH","r":"EC","x":4.25,"y":4.15},{"p":"FH","r":"EC","x":4.3,"y":3.65},{"p":"FH","r":"EC","x":4.35,"y":4.0},{"p":"FH","r":"EC","x":4.38,"y":4.3},{"p":"FH","r":"EC","x":3.72,"y":4.12},{"p":"FH","r":"EC","x":4.08,"y":3.88},{"p":"FH","r":"EC","x":4.22,"y":4.38},{"p":"FH","r":"EC","x":3.88,"y":4.05},
{"p":"OH","r":"GH","x":6.05,"y":6.23},{"p":"OH","r":"GH","x":4.26,"y":5.36},{"p":"OH","r":"GH","x":4.44,"y":5.34},{"p":"OH","r":"GH","x":3.75,"y":4.94},{"p":"OH","r":"GH","x":4.97,"y":4.03},{"p":"OH","r":"GH","x":3.24,"y":4.27},{"p":"OH","r":"GH","x":3.38,"y":4.18},{"p":"OH","r":"GH","x":2.97,"y":3.91},{"p":"OH","r":"GH","x":3.01,"y":3.32},{"p":"OH","r":"GH","x":2.88,"y":2.73},{"p":"OH","r":"GH","x":3.24,"y":2.68},{"p":"OH","r":"GH","x":3.38,"y":2.64},{"p":"OH","r":"GH","x":2.74,"y":1.91},{"p":"OH","r":"GH","x":3.01,"y":1.68},{"p":"OH","r":"GH","x":3.15,"y":1.82},{"p":"OH","r":"GH","x":1.87,"y":4.0},{"p":"OH","r":"GH","x":2.33,"y":4.36},{"p":"OH","r":"GH","x":2.37,"y":3.68},{"p":"OH","r":"GH","x":1.87,"y":3.32},{"p":"OH","r":"GH","x":2.14,"y":3.36},{"p":"OH","r":"GH","x":2.23,"y":3.23},{"p":"OH","r":"GH","x":2.33,"y":3.32},{"p":"OH","r":"GH","x":1.77,"y":2.79},{"p":"OH","r":"GH","x":1.04,"y":4.27},{"p":"OH","r":"GH","x":1.22,"y":2.66},{"p":"OH","r":"GH","x":2.09,"y":1.09},{"p":"OH","r":"GH","x":1.94,"y":0.27},{"p":"OH","r":"GH","x":-0.39,"y":2.18},{"p":"OH","r":"GH","x":-0.16,"y":2.36},{"p":"OH","r":"GH","x":-0.29,"y":1.95},{"p":"OH","r":"GH","x":0.3,"y":1.95},{"p":"OH","r":"GH","x":0.62,"y":2.09},{"p":"OH","r":"GH","x":0.95,"y":2.09},{"p":"OH","r":"GH","x":-0.39,"y":1.25},{"p":"OH","r":"GH","x":-0.2,"y":1.0},{"p":"OH","r":"GH","x":0.07,"y":1.05},{"p":"OH","r":"GH","x":0.17,"y":1.23},{"p":"OH","r":"GH","x":0.35,"y":1.41},{"p":"OH","r":"GH","x":0.72,"y":1.09},{"p":"OH","r":"GH","x":0.9,"y":1.23},{"p":"OH","r":"GH","x":1.04,"y":1.36},{"p":"OH","r":"GH","x":1.22,"y":1.41},{"p":"OH","r":"GH","x":1.18,"y":0.91},{"p":"OH","r":"GH","x":1.36,"y":1.0},{"p":"OH","r":"GH","x":1.41,"y":1.18},{"p":"OH","r":"GH","x":0.76,"y":-0.32},{"p":"OH","r":"GH","x":3.62,"y":4.3},{"p":"OH","r":"GH","x":3.8,"y":3.6},{"p":"OH","r":"GH","x":4.05,"y":4.45},{"p":"OH","r":"GH","x":4.38,"y":4.35},{"p":"OH","r":"GH","x":3.95,"y":3.8},{"p":"OH","r":"GH","x":1.62,"y":2.35},{"p":"OH","r":"GH","x":1.8,"y":1.62},{"p":"OH","r":"GH","x":2.0,"y":2.45},{"p":"OH","r":"GH","x":2.4,"y":2.45},{"p":"OH","r":"GH","x":2.38,"y":1.62},{"p":"OH","r":"GH","x":-0.3,"y":0.4},{"p":"OH","r":"GH","x":0.0,"y":-0.38},{"p":"OH","r":"GH","x":0.25,"y":0.35},{"p":"OH","r":"GH","x":0.4,"y":-0.25},{"p":"OH","r":"GH","x":-0.15,"y":0.25},
{"p":"OH","r":"EC","x":6.09,"y":6.32},{"p":"OH","r":"EC","x":6.23,"y":6.27},{"p":"OH","r":"EC","x":6.37,"y":5.88},{"p":"OH","r":"EC","x":4.39,"y":5.73},{"p":"OH","r":"EC","x":3.8,"y":2.41},{"p":"OH","r":"EC","x":4.12,"y":2.32},{"p":"OH","r":"EC","x":3.8,"y":1.68},{"p":"OH","r":"EC","x":4.16,"y":1.82},{"p":"OH","r":"EC","x":3.38,"y":3.68},{"p":"OH","r":"EC","x":1.91,"y":4.36},{"p":"OH","r":"EC","x":2.05,"y":4.36},{"p":"OH","r":"EC","x":2.0,"y":4.05},{"p":"OH","r":"EC","x":2.19,"y":3.77},{"p":"OH","r":"EC","x":1.79,"y":3.73},{"p":"OH","r":"EC","x":2.12,"y":3.14},{"p":"OH","r":"EC","x":2.09,"y":2.86},{"p":"OH","r":"EC","x":1.96,"y":0.41},{"p":"OH","r":"EC","x":2.05,"y":0.27},{"p":"OH","r":"EC","x":2.14,"y":0.14},{"p":"OH","r":"EC","x":2.23,"y":0},{"p":"OH","r":"EC","x":2.28,"y":-0.32},{"p":"OH","r":"EC","x":-0.02,"y":1.91},{"p":"OH","r":"EC","x":0.26,"y":1.82},{"p":"OH","r":"EC","x":-0.06,"y":0.68},{"p":"OH","r":"EC","x":0.67,"y":0.32},{"p":"OH","r":"EC","x":6.0,"y":0.43},{"p":"OH","r":"EC","x":3.62,"y":3.9},{"p":"OH","r":"EC","x":3.65,"y":4.2},{"p":"OH","r":"EC","x":3.7,"y":3.65},{"p":"OH","r":"EC","x":3.75,"y":4.35},{"p":"OH","r":"EC","x":3.8,"y":4.0},{"p":"OH","r":"EC","x":3.85,"y":3.75},{"p":"OH","r":"EC","x":3.9,"y":4.25},{"p":"OH","r":"EC","x":3.95,"y":3.6},{"p":"OH","r":"EC","x":4.0,"y":4.1},{"p":"OH","r":"EC","x":4.05,"y":3.85},{"p":"OH","r":"EC","x":4.1,"y":4.35},{"p":"OH","r":"EC","x":4.15,"y":3.7},{"p":"OH","r":"EC","x":4.2,"y":4.05},{"p":"OH","r":"EC","x":4.25,"y":3.9},{"p":"OH","r":"EC","x":4.3,"y":4.3},{"p":"OH","r":"EC","x":4.35,"y":3.6},{"p":"OH","r":"EC","x":4.38,"y":3.95},{"p":"OH","r":"EC","x":3.72,"y":4.05},{"p":"OH","r":"EC","x":4.1,"y":3.95},{"p":"OH","r":"EC","x":4.28,"y":4.18},{"p":"OH","r":"EC","x":3.85,"y":4.38},{"p":"OH","r":"EC","x":1.62,"y":2.0},{"p":"OH","r":"EC","x":1.65,"y":1.7},{"p":"OH","r":"EC","x":1.7,"y":2.3},{"p":"OH","r":"EC","x":1.75,"y":1.85},{"p":"OH","r":"EC","x":1.8,"y":2.15},{"p":"OH","r":"EC","x":1.85,"y":1.6},{"p":"OH","r":"EC","x":1.9,"y":2.4},{"p":"OH","r":"EC","x":1.95,"y":1.95},{"p":"OH","r":"EC","x":2.0,"y":2.2},{"p":"OH","r":"EC","x":2.05,"y":1.7},{"p":"OH","r":"EC","x":2.1,"y":2.0},{"p":"OH","r":"EC","x":2.15,"y":2.35},{"p":"OH","r":"EC","x":2.2,"y":1.8},{"p":"OH","r":"EC","x":2.25,"y":2.1},{"p":"OH","r":"EC","x":2.3,"y":1.62},{"p":"OH","r":"EC","x":2.35,"y":2.25},{"p":"OH","r":"EC","x":2.38,"y":1.9},{"p":"OH","r":"EC","x":1.72,"y":2.05},{"p":"OH","r":"EC","x":2.08,"y":1.85},{"p":"OH","r":"EC","x":2.22,"y":2.42},{"p":"OH","r":"EC","x":-0.38,"y":0.1},{"p":"OH","r":"EC","x":-0.35,"y":-0.15},{"p":"OH","r":"EC","x":-0.3,"y":0.3},{"p":"OH","r":"EC","x":-0.2,"y":-0.1},{"p":"OH","r":"EC","x":-0.1,"y":0.15},{"p":"OH","r":"EC","x":-0.05,"y":-0.3},{"p":"OH","r":"EC","x":0.05,"y":0.0},{"p":"OH","r":"EC","x":0.15,"y":0.2},{"p":"OH","r":"EC","x":0.2,"y":-0.2},{"p":"OH","r":"EC","x":0.3,"y":0.05},{"p":"OH","r":"EC","x":0.35,"y":-0.35},{"p":"OH","r":"EC","x":0.4,"y":0.15},{"p":"OH","r":"EC","x":-0.25,"y":-0.35},{"p":"OH","r":"EC","x":0.1,"y":-0.1},
{"p":"TH","r":"GH","x":0,"y":1.67},{"p":"TH","r":"GH","x":-0.14,"y":1.32},{"p":"TH","r":"GH","x":-0.05,"y":0.73},{"p":"TH","r":"GH","x":0.32,"y":1.19},{"p":"TH","r":"GH","x":0.35,"y":0.79},{"p":"TH","r":"GH","x":0.36,"y":2.33},{"p":"TH","r":"GH","x":0.32,"y":2.1},{"p":"TH","r":"GH","x":0.66,"y":2.04},{"p":"TH","r":"GH","x":0.96,"y":2.05},{"p":"TH","r":"GH","x":0.77,"y":1.31},{"p":"TH","r":"GH","x":0.87,"y":1.37},{"p":"TH","r":"GH","x":0.77,"y":0.73},{"p":"TH","r":"GH","x":1.09,"y":0.79},{"p":"TH","r":"GH","x":1.41,"y":1.25},{"p":"TH","r":"GH","x":1.19,"y":3.2},{"p":"TH","r":"GH","x":1.64,"y":0.09},{"p":"TH","r":"GH","x":1.73,"y":-0.05},{"p":"TH","r":"GH","x":1.96,"y":-0.23},{"p":"TH","r":"GH","x":1.69,"y":2.97},{"p":"TH","r":"GH","x":1.78,"y":0.98},{"p":"TH","r":"GH","x":2.0,"y":0.96},{"p":"TH","r":"GH","x":1.91,"y":0.73},{"p":"TH","r":"GH","x":2.19,"y":1.23},{"p":"TH","r":"GH","x":2.28,"y":1.05},{"p":"TH","r":"GH","x":2.23,"y":1.32},{"p":"TH","r":"GH","x":2.14,"y":1.78},{"p":"TH","r":"GH","x":2.0,"y":2.1},{"p":"TH","r":"GH","x":1.96,"y":2.0},{"p":"TH","r":"GH","x":2.05,"y":3.33},{"p":"TH","r":"GH","x":1.91,"y":4.06},{"p":"TH","r":"GH","x":2.69,"y":3.65},{"p":"TH","r":"GH","x":2.74,"y":4.29},{"p":"TH","r":"GH","x":2.92,"y":4.2},{"p":"TH","r":"GH","x":3.1,"y":1.74},{"p":"TH","r":"GH","x":3.28,"y":1.64},{"p":"TH","r":"GH","x":3.69,"y":2.69},{"p":"TH","r":"GH","x":3.74,"y":2.15},{"p":"TH","r":"GH","x":3.76,"y":1.0},{"p":"TH","r":"GH","x":4.01,"y":4.2},{"p":"TH","r":"GH","x":4.1,"y":3.7},{"p":"TH","r":"GH","x":4.33,"y":1.74},{"p":"TH","r":"GH","x":4.6,"y":4.89},{"p":"TH","r":"GH","x":5.0,"y":3.93},{"p":"TH","r":"GH","x":5.79,"y":4.2},{"p":"TH","r":"GH","x":0.5,"y":0.6},{"p":"TH","r":"GH","x":1.2,"y":1.1},{"p":"TH","r":"GH","x":-0.33,"y":0.35},{"p":"TH","r":"GH","x":-0.15,"y":0.4},{"p":"TH","r":"GH","x":0.0,"y":0.3},{"p":"TH","r":"GH","x":0.2,"y":-0.4},{"p":"TH","r":"GH","x":0.3,"y":0.35},{"p":"TH","r":"GH","x":-0.05,"y":-0.1},{"p":"TH","r":"GH","x":0.15,"y":0.15},
{"p":"TH","r":"EC","x":0,"y":4.05},{"p":"TH","r":"EC","x":1.09,"y":1.32},{"p":"TH","r":"EC","x":1.32,"y":2.13},{"p":"TH","r":"EC","x":1.26,"y":3.33},{"p":"TH","r":"EC","x":0.77,"y":0.43},{"p":"TH","r":"EC","x":0.89,"y":-0.23},{"p":"TH","r":"EC","x":1.14,"y":0.25},{"p":"TH","r":"EC","x":0.64,"y":0.05},{"p":"TH","r":"EC","x":1.64,"y":0.41},{"p":"TH","r":"EC","x":1.91,"y":0.32},{"p":"TH","r":"EC","x":1.82,"y":1.42},{"p":"TH","r":"EC","x":2.37,"y":1.87},{"p":"TH","r":"EC","x":2.19,"y":2.15},{"p":"TH","r":"EC","x":2.14,"y":2.28},{"p":"TH","r":"EC","x":1.6,"y":2.19},{"p":"TH","r":"EC","x":1.73,"y":2.15},{"p":"TH","r":"EC","x":1.87,"y":1.96},{"p":"TH","r":"EC","x":2.05,"y":2.83},{"p":"TH","r":"EC","x":2.14,"y":3.29},{"p":"TH","r":"EC","x":1.82,"y":3.72},{"p":"TH","r":"EC","x":2.17,"y":4.06},{"p":"TH","r":"EC","x":2.05,"y":3.7},{"p":"TH","r":"EC","x":2.78,"y":3.29},{"p":"TH","r":"EC","x":2.83,"y":3.97},{"p":"TH","r":"EC","x":2.96,"y":3.97},{"p":"TH","r":"EC","x":3.1,"y":4.06},{"p":"TH","r":"EC","x":3.24,"y":3.74},{"p":"TH","r":"EC","x":2.87,"y":2.33},{"p":"TH","r":"EC","x":3.01,"y":1.96},{"p":"TH","r":"EC","x":3.65,"y":4.11},{"p":"TH","r":"EC","x":3.74,"y":4.34},{"p":"TH","r":"EC","x":3.78,"y":4.06},{"p":"TH","r":"EC","x":3.65,"y":3.74},{"p":"TH","r":"EC","x":3.83,"y":3.74},{"p":"TH","r":"EC","x":3.78,"y":3.1},{"p":"TH","r":"EC","x":4.05,"y":3.2},{"p":"TH","r":"EC","x":4.1,"y":3.97},{"p":"TH","r":"EC","x":4.33,"y":4.38},{"p":"TH","r":"EC","x":4.38,"y":4.16},{"p":"TH","r":"EC","x":4.28,"y":6.3},{"p":"TH","r":"EC","x":4.15,"y":2.28},{"p":"TH","r":"EC","x":4.05,"y":1.96},{"p":"TH","r":"EC","x":4.1,"y":1.83},{"p":"TH","r":"EC","x":4.05,"y":1.64},{"p":"TH","r":"EC","x":4.83,"y":3.06},{"p":"TH","r":"EC","x":5.1,"y":4.7},{"p":"TH","r":"EC","x":5.15,"y":4.06},{"p":"TH","r":"EC","x":5.2,"y":3.65},{"p":"TH","r":"EC","x":5.29,"y":4.06},{"p":"TH","r":"EC","x":5.36,"y":3.79},{"p":"TH","r":"EC","x":5.65,"y":6.21},{"p":"TH","r":"EC","x":5.93,"y":4.06},{"p":"TH","r":"EC","x":5.93,"y":3.79},{"p":"TH","r":"EC","x":5.88,"y":2.62},{"p":"TH","r":"EC","x":5.97,"y":2.15},{"p":"TH","r":"EC","x":6.02,"y":2.12},{"p":"TH","r":"EC","x":6.02,"y":6.35},{"p":"TH","r":"EC","x":6.23,"y":6.35},{"p":"TH","r":"EC","x":6.15,"y":5.89},{"p":"TH","r":"EC","x":6.15,"y":5.64},{"p":"TH","r":"EC","x":6.34,"y":5.64},{"p":"TH","r":"EC","x":6.2,"y":5.09},{"p":"TH","r":"EC","x":6.29,"y":4.17},{"p":"TH","r":"EC","x":6.06,"y":4.11},{"p":"TH","r":"EC","x":6.34,"y":3.63},{"p":"TH","r":"EC","x":3.0,"y":3.85},{"p":"TH","r":"EC","x":3.5,"y":4.0},{"p":"TH","r":"EC","x":-0.35,"y":0.05},{"p":"TH","r":"EC","x":-0.3,"y":-0.2},{"p":"TH","r":"EC","x":-0.2,"y":0.15},{"p":"TH","r":"EC","x":-0.1,"y":-0.3},{"p":"TH","r":"EC","x":0.0,"y":0.0},{"p":"TH","r":"EC","x":0.1,"y":0.25},{"p":"TH","r":"EC","x":0.15,"y":-0.15},{"p":"TH","r":"EC","x":0.25,"y":0.05},{"p":"TH","r":"EC","x":0.3,"y":-0.35},{"p":"TH","r":"EC","x":0.35,"y":0.2},{"p":"TH","r":"EC","x":0.4,"y":-0.1},{"p":"TH","r":"EC","x":-0.25,"y":-0.38},{"p":"TH","r":"EC","x":0.05,"y":-0.35},
{"p":"V","r":"GH","x":-0.32,"y":1.02},{"p":"V","r":"GH","x":-0.22,"y":0.99},{"p":"V","r":"GH","x":-0.34,"y":0.4},{"p":"V","r":"GH","x":-0.39,"y":0},{"p":"V","r":"GH","x":-0.05,"y":0.32},{"p":"V","r":"GH","x":0.2,"y":-0.3},{"p":"V","r":"GH","x":0.59,"y":-0.15},{"p":"V","r":"GH","x":0.64,"y":0.17},{"p":"V","r":"GH","x":0.76,"y":0.02},{"p":"V","r":"GH","x":0.93,"y":-0.22},{"p":"V","r":"GH","x":1.13,"y":0.22},{"p":"V","r":"GH","x":1.2,"y":0},{"p":"V","r":"GH","x":1.38,"y":-0.04},{"p":"V","r":"GH","x":0.64,"y":1.15},{"p":"V","r":"GH","x":0.61,"y":1.0},{"p":"V","r":"GH","x":0.66,"y":1.25},{"p":"V","r":"GH","x":0.66,"y":0.82},{"p":"V","r":"GH","x":0.74,"y":1.64},{"p":"V","r":"GH","x":0.86,"y":1.85},{"p":"V","r":"GH","x":0.86,"y":0.62},{"p":"V","r":"GH","x":1.18,"y":1.35},{"p":"V","r":"GH","x":1.25,"y":1.32},{"p":"V","r":"GH","x":1.18,"y":0.62},{"p":"V","r":"GH","x":1.38,"y":1.12},{"p":"V","r":"GH","x":1.4,"y":1.02},{"p":"V","r":"GH","x":1.67,"y":2.09},{"p":"V","r":"GH","x":1.67,"y":1.79},{"p":"V","r":"GH","x":2.17,"y":1.69},{"p":"V","r":"GH","x":2.29,"y":2.39},{"p":"V","r":"GH","x":2.31,"y":1.94},{"p":"V","r":"GH","x":2.29,"y":1.72},{"p":"V","r":"GH","x":2.24,"y":0.65},{"p":"V","r":"GH","x":2.29,"y":0.92},{"p":"V","r":"GH","x":1.72,"y":1.3},{"p":"V","r":"GH","x":1.74,"y":1.15},{"p":"V","r":"GH","x":1.82,"y":1.25},{"p":"V","r":"GH","x":1.92,"y":1.07},{"p":"V","r":"GH","x":1.89,"y":0.85},{"p":"V","r":"GH","x":1.74,"y":0.62},{"p":"V","r":"GH","x":1.57,"y":2.09},{"p":"V","r":"GH","x":1.55,"y":1.94},{"p":"V","r":"GH","x":2.64,"y":2.81},{"p":"V","r":"GH","x":2.69,"y":2.69},{"p":"V","r":"GH","x":2.81,"y":2.89},{"p":"V","r":"GH","x":2.66,"y":2.42},{"p":"V","r":"GH","x":2.64,"y":1.72},{"p":"V","r":"GH","x":3.08,"y":2.74},{"p":"V","r":"GH","x":3.35,"y":2.91},{"p":"V","r":"GH","x":3.17,"y":1.84},{"p":"V","r":"GH","x":3.25,"y":1.99},{"p":"V","r":"GH","x":3.32,"y":2.14},{"p":"V","r":"GH","x":-0.25,"y":0.2},{"p":"V","r":"GH","x":0.1,"y":-0.3},{"p":"V","r":"GH","x":0.95,"y":1.1},{"p":"V","r":"GH","x":2.1,"y":2.0},
{"p":"V","r":"EC","x":-0.39,"y":0.25},{"p":"V","r":"EC","x":-0.37,"y":0.15},{"p":"V","r":"EC","x":-0.17,"y":0.65},{"p":"V","r":"EC","x":-0.37,"y":-0.2},{"p":"V","r":"EC","x":-0.2,"y":-0.2},{"p":"V","r":"EC","x":-0.17,"y":-0.32},{"p":"V","r":"EC","x":-0.02,"y":-0.32},{"p":"V","r":"EC","x":-0.12,"y":0.05},{"p":"V","r":"EC","x":-0.05,"y":-0.05},{"p":"V","r":"EC","x":0.02,"y":0.05},{"p":"V","r":"EC","x":0.1,"y":0.37},{"p":"V","r":"EC","x":0.22,"y":0.9},{"p":"V","r":"EC","x":0.2,"y":0.4},{"p":"V","r":"EC","x":0.25,"y":0.25},{"p":"V","r":"EC","x":0.32,"y":0.2},{"p":"V","r":"EC","x":0.37,"y":0.27},{"p":"V","r":"EC","x":0.12,"y":-0.12},{"p":"V","r":"EC","x":0.27,"y":-0.17},{"p":"V","r":"EC","x":0.34,"y":-0.25},{"p":"V","r":"EC","x":0.37,"y":-0.1},{"p":"V","r":"EC","x":1.01,"y":0},{"p":"V","r":"EC","x":1.06,"y":0.1},{"p":"V","r":"EC","x":0.69,"y":2.19},{"p":"V","r":"EC","x":0.79,"y":1.05},{"p":"V","r":"EC","x":0.81,"y":1.15},{"p":"V","r":"EC","x":0.84,"y":1.4},{"p":"V","r":"EC","x":0.86,"y":1.79},{"p":"V","r":"EC","x":0.79,"y":0.67},{"p":"V","r":"EC","x":0.86,"y":0.95},{"p":"V","r":"EC","x":0.96,"y":0.82},{"p":"V","r":"EC","x":0.94,"y":1.99},{"p":"V","r":"EC","x":1.06,"y":1.92},{"p":"V","r":"EC","x":1.11,"y":2.09},{"p":"V","r":"EC","x":1.18,"y":2.09},{"p":"V","r":"EC","x":1.25,"y":2.09},{"p":"V","r":"EC","x":1.13,"y":1.79},{"p":"V","r":"EC","x":1.16,"y":1.64},{"p":"V","r":"EC","x":1.13,"y":1.37},{"p":"V","r":"EC","x":1.16,"y":1.15},{"p":"V","r":"EC","x":1.13,"y":0.87},{"p":"V","r":"EC","x":1.25,"y":0.7},{"p":"V","r":"EC","x":1.3,"y":0.7},{"p":"V","r":"EC","x":1.33,"y":1.05},{"p":"V","r":"EC","x":1.62,"y":2.29},{"p":"V","r":"EC","x":1.67,"y":1.95},{"p":"V","r":"EC","x":1.77,"y":2.39},{"p":"V","r":"EC","x":1.82,"y":2.29},{"p":"V","r":"EC","x":1.87,"y":2.24},{"p":"V","r":"EC","x":1.89,"y":1.99},{"p":"V","r":"EC","x":1.94,"y":1.94},{"p":"V","r":"EC","x":1.94,"y":1.67},{"p":"V","r":"EC","x":1.99,"y":2.37},{"p":"V","r":"EC","x":2.04,"y":2.24},{"p":"V","r":"EC","x":2.07,"y":3.01},{"p":"V","r":"EC","x":2.09,"y":2.69},{"p":"V","r":"EC","x":2.14,"y":2.29},{"p":"V","r":"EC","x":2.24,"y":2.24},{"p":"V","r":"EC","x":2.26,"y":2.12},{"p":"V","r":"EC","x":2.32,"y":2.24},{"p":"V","r":"EC","x":1.89,"y":1.3},{"p":"V","r":"EC","x":1.99,"y":1.27},{"p":"V","r":"EC","x":2.07,"y":1.07},{"p":"V","r":"EC","x":1.99,"y":0.85},{"p":"V","r":"EC","x":1.67,"y":0.75},{"p":"V","r":"EC","x":2.64,"y":2.96},{"p":"V","r":"EC","x":2.75,"y":0.75},{"p":"V","r":"EC","x":3.0,"y":3.29},{"p":"V","r":"EC","x":2.98,"y":3.19},{"p":"V","r":"EC","x":3.03,"y":3.06},{"p":"V","r":"EC","x":2.98,"y":2.81},{"p":"V","r":"EC","x":3.1,"y":2.84},{"p":"V","r":"EC","x":3.35,"y":3.34},{"p":"V","r":"EC","x":3.37,"y":3.35},{"p":"V","r":"EC","x":3.35,"y":3.11},{"p":"V","r":"EC","x":2.93,"y":2.14},{"p":"V","r":"EC","x":2.95,"y":2.07},{"p":"V","r":"EC","x":2.91,"y":2.02},{"p":"V","r":"EC","x":3.03,"y":1.62},{"p":"V","r":"EC","x":0.05,"y":0.1},{"p":"V","r":"EC","x":0.15,"y":-0.28},{"p":"V","r":"EC","x":-0.3,"y":0.0}
]
},
"config":{
"font":"Liberation Sans",
"view":{"stroke":null},
"axis":{"domainColor":"black","domainWidth":2,"domainCap":"square","tickColor":"black","tickWidth":1.5,"tickSize":5,"labelFont":"Liberation Sans","labelFontSize":14,"labelColor":"black","grid":false,"labelPadding":3},
"title":{"font":"Liberation Sans","fontSize":28,"fontWeight":"bold","anchor":"start","frame":"group","offset":5,"dx":11,"color":"black"},
"legend":{"orient":"none","legendX":3,"legendY":-116,"direction":"horizontal","titleOrient":"left","titleFont":"Liberation Sans","titleFontSize":24,"titleFontWeight":"bold","titleColor":"black","titleBaseline":"middle","labelFont":"Liberation Sans","labelFontSize":23,"labelColor":"black","symbolSize":1600,"symbolType":"circle","symbolStrokeWidth":0,"labelOffset":18,"columnPadding":15,"titlePadding":22}
},
"title":{"text":"GCA Rating on CT","orient":"bottom","anchor":"middle","frame":"bounds","fontSize":33,"dx":0,"offset":42},
"spacing":0,
"vconcat":[{
"title":{"text":"GCA Rating on MRI","orient":"left","anchor":"middle","frame":"bounds","fontSize":33,"dx":0,"offset":63},
"spacing":16,
"vconcat":[
{"spacing":14,"hconcat":[
{"width":270,"height":270,"title":{"text":"Total","dx":5},
"encoding":{"x":{"field":"x","type":"quantitative","title":null,"scale":{"domain":[-1.7,32.6],"nice":false,"zero":false},"axis":{"values":[0,10,20,30]}},"y":{"field":"y","type":"quantitative","title":null,"scale":{"domain":[-1.7,30.4],"nice":false,"zero":false},"axis":{"values":[0,10,20,30]}}},
"layer":[
{"data":{"name":"pts"},"transform":[{"filter":"datum.p=='T'"}],"mark":{"type":"circle","size":140,"opacity":0.75},"encoding":{"color":{"field":"r","type":"nominal","title":"Rater:","scale":{"domain":["EC","GH"],"range":["#265c8f","#6f8eae"]}}}},
{"data":{"name":"lns"},"transform":[{"filter":"datum.p=='T'"}],"mark":{"type":"line","color":"#12416b","strokeWidth":3},"encoding":{}},
{"data":{"name":"kts"},"transform":[{"filter":"datum.p=='T'"}],"mark":{"type":"text","align":"right","baseline":"middle","fontSize":20,"fontWeight":"bold"},"encoding":{"text":{"field":"t"},"fill":{"condition":{"test":"datum.r=='EC'","value":"#5b7ea7"},"value":"#91a8c0"}}}
]},
{"width":264,"height":270,"title":"Frontal",
"encoding":{"x":{"field":"x","type":"quantitative","title":null,"scale":{"domain":[-0.6,4.6],"nice":false,"zero":false},"axis":{"values":[0,1,2,3,4]}},"y":{"field":"y","type":"quantitative","title":null,"scale":{"domain":[-0.63,4.62],"nice":false,"zero":false},"axis":{"values":[0,1,2,3,4]}}},
"layer":[
{"data":{"name":"pts"},"transform":[{"filter":"datum.p=='F'"}],"mark":{"type":"circle","size":140,"opacity":0.75},"encoding":{"color":{"field":"r","type":"nominal","title":"Rater:","scale":{"domain":["EC","GH"],"range":["#265c8f","#6f8eae"]}}}},
{"data":{"name":"lns"},"transform":[{"filter":"datum.p=='F'"}],"mark":{"type":"line","color":"#12416b","strokeWidth":3},"encoding":{}},
{"data":{"name":"kts"},"transform":[{"filter":"datum.p=='F'"}],"mark":{"type":"text","align":"right","baseline":"middle","fontSize":20,"fontWeight":"bold"},"encoding":{"text":{"field":"t"},"fill":{"condition":{"test":"datum.r=='EC'","value":"#5b7ea7"},"value":"#91a8c0"}}}
]},
{"width":273,"height":270,"title":"Parieto-occipital",
"encoding":{"x":{"field":"x","type":"quantitative","title":null,"scale":{"domain":[-0.69,6.4],"nice":false,"zero":false},"axis":{"values":[0,2,4,6]}},"y":{"field":"y","type":"quantitative","title":null,"scale":{"domain":[-0.7,6.6],"nice":false,"zero":false},"axis":{"values":[0,2,4,6]}}},
"layer":[
{"data":{"name":"pts"},"transform":[{"filter":"datum.p=='P'"}],"mark":{"type":"circle","size":140,"opacity":0.75},"encoding":{"color":{"field":"r","type":"nominal","title":"Rater:","scale":{"domain":["EC","GH"],"range":["#265c8f","#6f8eae"]}}}},
{"data":{"name":"lns"},"transform":[{"filter":"datum.p=='P'"}],"mark":{"type":"line","color":"#12416b","strokeWidth":3},"encoding":{}},
{"data":{"name":"kts"},"transform":[{"filter":"datum.p=='P'"}],"mark":{"type":"text","align":"right","baseline":"middle","fontSize":20,"fontWeight":"bold"},"encoding":{"text":{"field":"t"},"fill":{"condition":{"test":"datum.r=='EC'","value":"#5b7ea7"},"value":"#91a8c0"}}}
]},
{"width":280,"height":270,"title":"Temporal",
"encoding":{"x":{"field":"x","type":"quantitative","title":null,"scale":{"domain":[-0.68,6.32],"nice":false,"zero":false},"axis":{"values":[0,2,4,6]}},"y":{"field":"y","type":"quantitative","title":null,"scale":{"domain":[-0.65,6.6],"nice":false,"zero":false},"axis":{"values":[0,2,4,6]}}},
"layer":[
{"data":{"name":"pts"},"transform":[{"filter":"datum.p=='Te'"}],"mark":{"type":"circle","size":140,"opacity":0.75},"encoding":{"color":{"field":"r","type":"nominal","title":"Rater:","scale":{"domain":["EC","GH"],"range":["#265c8f","#6f8eae"]}}}},
{"data":{"name":"lns"},"transform":[{"filter":"datum.p=='Te'"}],"mark":{"type":"line","color":"#12416b","strokeWidth":3},"encoding":{}},
{"data":{"name":"kts"},"transform":[{"filter":"datum.p=='Te'"}],"mark":{"type":"text","align":"right","baseline":"middle","fontSize":20,"fontWeight":"bold"},"encoding":{"text":{"field":"t"},"fill":{"condition":{"test":"datum.r=='EC'","value":"#5b7ea7"},"value":"#91a8c0"}}}
]}
]},
{"spacing":14,"hconcat":[
{"width":270,"height":270,"title":{"text":"Frontal horns","dx":5},
"encoding":{"x":{"field":"x","type":"quantitative","title":null,"scale":{"domain":[-0.69,6.76],"nice":false,"zero":false},"axis":{"values":[0,2,4,6]}},"y":{"field":"y","type":"quantitative","title":null,"scale":{"domain":[-0.74,6.68],"nice":false,"zero":false},"axis":{"values":[0,2,4,6]}}},
"layer":[
{"data":{"name":"pts"},"transform":[{"filter":"datum.p=='FH'"}],"mark":{"type":"circle","size":140,"opacity":0.75},"encoding":{"color":{"field":"r","type":"nominal","title":"Rater:","scale":{"domain":["EC","GH"],"range":["#265c8f","#6f8eae"]}}}},
{"data":{"name":"lns"},"transform":[{"filter":"datum.p=='FH'"}],"mark":{"type":"line","color":"#12416b","strokeWidth":3},"encoding":{}},
{"data":{"name":"kts"},"transform":[{"filter":"datum.p=='FH'"}],"mark":{"type":"text","align":"right","baseline":"middle","fontSize":20,"fontWeight":"bold"},"encoding":{"text":{"field":"t"},"fill":{"condition":{"test":"datum.r=='EC'","value":"#5b7ea7"},"value":"#91a8c0"}}}
]},
{"width":264,"height":270,"title":"Occipital horns",
"encoding":{"x":{"field":"x","type":"quantitative","title":null,"scale":{"domain":[-0.74,6.69],"nice":false,"zero":false},"axis":{"values":[0,2,4,6]}},"y":{"field":"y","type":"quantitative","title":null,"scale":{"domain":[-0.74,6.62],"nice":false,"zero":false},"axis":{"values":[0,2,4,6]}}},
"layer":[
{"data":{"name":"pts"},"transform":[{"filter":"datum.p=='OH'"}],"mark":{"type":"circle","size":140,"opacity":0.75},"encoding":{"color":{"field":"r","type":"nominal","title":"Rater:","scale":{"domain":["EC","GH"],"range":["#265c8f","#6f8eae"]}}}},
{"data":{"name":"lns"},"transform":[{"filter":"datum.p=='OH'"}],"mark":{"type":"line","color":"#12416b","strokeWidth":3},"encoding":{}},
{"data":{"name":"kts"},"transform":[{"filter":"datum.p=='OH'"}],"mark":{"type":"text","align":"right","baseline":"middle","fontSize":20,"fontWeight":"bold"},"encoding":{"text":{"field":"t"},"fill":{"condition":{"test":"datum.r=='EC'","value":"#5b7ea7"},"value":"#91a8c0"}}}
]},
{"width":273,"height":270,"title":"Temporal horns",
"encoding":{"x":{"field":"x","type":"quantitative","title":null,"scale":{"domain":[-0.72,6.63],"nice":false,"zero":false},"axis":{"values":[0,2,4,6]}},"y":{"field":"y","type":"quantitative","title":null,"scale":{"domain":[-0.74,6.68],"nice":false,"zero":false},"axis":{"values":[0,2,4,6]}}},
"layer":[
{"data":{"name":"pts"},"transform":[{"filter":"datum.p=='TH'"}],"mark":{"type":"circle","size":140,"opacity":0.75},"encoding":{"color":{"field":"r","type":"nominal","title":"Rater:","scale":{"domain":["EC","GH"],"range":["#265c8f","#6f8eae"]}}}},
{"data":{"name":"lns"},"transform":[{"filter":"datum.p=='TH'"}],"mark":{"type":"line","color":"#12416b","strokeWidth":3},"encoding":{}},
{"data":{"name":"kts"},"transform":[{"filter":"datum.p=='TH'"}],"mark":{"type":"text","align":"right","baseline":"middle","fontSize":20,"fontWeight":"bold"},"encoding":{"text":{"field":"t"},"fill":{"condition":{"test":"datum.r=='EC'","value":"#5b7ea7"},"value":"#91a8c0"}}}
]},
{"width":280,"height":270,"title":"Third ventricle",
"encoding":{"x":{"field":"x","type":"quantitative","title":null,"scale":{"domain":[-0.58,3.56],"nice":false,"zero":false},"axis":{"values":[0,1,2,3]}},"y":{"field":"y","type":"quantitative","title":null,"scale":{"domain":[-0.5,3.51],"nice":false,"zero":false},"axis":{"values":[0,1,2,3]}}},
"layer":[
{"data":{"name":"pts"},"transform":[{"filter":"datum.p=='V'"}],"mark":{"type":"circle","size":140,"opacity":0.75},"encoding":{"color":{"field":"r","type":"nominal","title":"Rater:","scale":{"domain":["EC","GH"],"range":["#265c8f","#6f8eae"]}}}},
{"data":{"name":"lns"},"transform":[{"filter":"datum.p=='V'"}],"mark":{"type":"line","color":"#12416b","strokeWidth":3},"encoding":{}},
{"data":{"name":"kts"},"transform":[{"filter":"datum.p=='V'"}],"mark":{"type":"text","align":"right","baseline":"middle","fontSize":20,"fontWeight":"bold"},"encoding":{"text":{"field":"t"},"fill":{"condition":{"test":"datum.r=='EC'","value":"#5b7ea7"},"value":"#91a8c0"}}}
]}
]}
]
}]
}
